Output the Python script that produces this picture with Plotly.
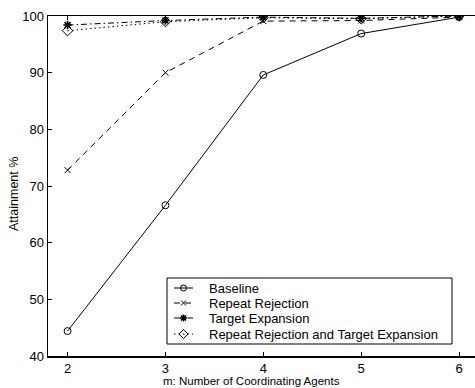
import plotly.graph_objects as go

agents = [2, 3, 4, 5, 6]
baseline = [44.4, 66.6, 89.6, 96.9, 99.8]
repeat_rejection = [72.8, 90.0, 99.1, 99.2, 99.8]
target_expansion = [98.4, 99.2, 99.8, 99.6, 100.0]
rr_and_te = [97.4, 99.0, 99.7, 99.5, 100.0]

names = ["Baseline", "Repeat Rejection", "Target Expansion",
         "Repeat Rejection and Target Expansion"]
series = [baseline, repeat_rejection, target_expansion, rr_and_te]
dashes = ["solid", "6px,5px", "6px,3px,1.5px,3px", "1.5px,3px"]
symbols = ["circle-open", "x-thin-open", "asterisk-open", "diamond-open"]
sizes = [7, 6, 7, 8]
mwidths = [1, 1, 1.6, 1]

W, H = 475, 388
L, T, B, R = 48, 16, 356, 475    # plot area in page pixels

fig = go.Figure()
for n, s, d, sym, sz, mw in zip(names, series, dashes, symbols, sizes, mwidths):
    fig.add_trace(go.Scatter(
        x=agents, y=s, name=n, mode="lines+markers", showlegend=False,
        line=dict(color="black", width=1, dash=d),
        marker=dict(symbol=sym, size=sz, color="black",
                    line=dict(color="black", width=mw)),
    ))

# manual legend (page-pixel overlay axes)
leg_box = (167, 278, 452, 344)
row_y = [288, 303, 318, 334]
sample_x0, sample_x1, text_x = 174, 193, 207
for n, d, sym, sz, mw, ry in zip(names, dashes, symbols, sizes, mwidths, row_y):
    fig.add_trace(go.Scatter(
        x=[sample_x0, sample_x1], y=[ry, ry], mode="lines", showlegend=False,
        xaxis="x2", yaxis="y2", line=dict(color="black", width=1, dash=d),
        hoverinfo="skip"))
    fig.add_trace(go.Scatter(
        x=[(sample_x0 + sample_x1) / 2], y=[ry], mode="markers", showlegend=False,
        xaxis="x2", yaxis="y2", hoverinfo="skip",
        marker=dict(symbol=sym, size=sz - 1, color="black",
                    line=dict(color="black", width=mw))))

font = "Liberation Sans, Arial, Helvetica, sans-serif"
annotations = [
    dict(text="m: Number of Coordinating Agents", xref="paper", yref="paper",
         x=(251 - L) / (R - L), y=-(381 - B) / (B - T), showarrow=False,
         xanchor="center", yanchor="middle", font=dict(size=11.5)),
    dict(text="Attainment %", xref="paper", yref="paper",
         x=-(L - 14) / (R - L), y=(B - 194) / (B - T), showarrow=False,
         textangle=-90, xanchor="center", yanchor="middle",
         font=dict(size=12.5)),
]
for n, ry in zip(names, row_y):
    annotations.append(dict(text=n, xref="x2", yref="y2", x=text_x, y=ry,
                            showarrow=False, xanchor="left", yanchor="middle",
                            font=dict(size=13)))

fig.update_layout(
    width=W, height=H,
    margin=dict(l=L, r=W - R, t=T, b=H - B),
    plot_bgcolor="white", paper_bgcolor="white",
    font=dict(family=font, size=13, color="black"),
    showlegend=False,
    xaxis=dict(range=[1.8, 6.163], tickvals=agents, showline=True,
               linecolor="black", linewidth=1.5, mirror="ticks",
               ticks="inside", ticklen=4, tickcolor="black",
               showgrid=False, zeroline=False),
    yaxis=dict(range=[40, 100], tickvals=[40, 50, 60, 70, 80, 90, 100],
               showline=True, linecolor="black", linewidth=1.5,
               ticks="inside", ticklen=4, tickcolor="black",
               showgrid=False, zeroline=False),
    xaxis2=dict(range=[L, R], overlaying="x", visible=False, fixedrange=True),
    yaxis2=dict(range=[B, T], overlaying="y", visible=False, fixedrange=True),
    shapes=[dict(type="rect", xref="x2", yref="y2",
                 x0=leg_box[0], y0=leg_box[1], x1=leg_box[2], y1=leg_box[3],
                 line=dict(color="black", width=1), fillcolor="white",
                 layer="below")],
    annotations=annotations,
)

fig.write_html("out.html",
               config={"displayModeBar": False, "staticPlot": True},
               post_script="document.body.style.margin='0';"
                           "document.body.style.overflow='hidden';")
